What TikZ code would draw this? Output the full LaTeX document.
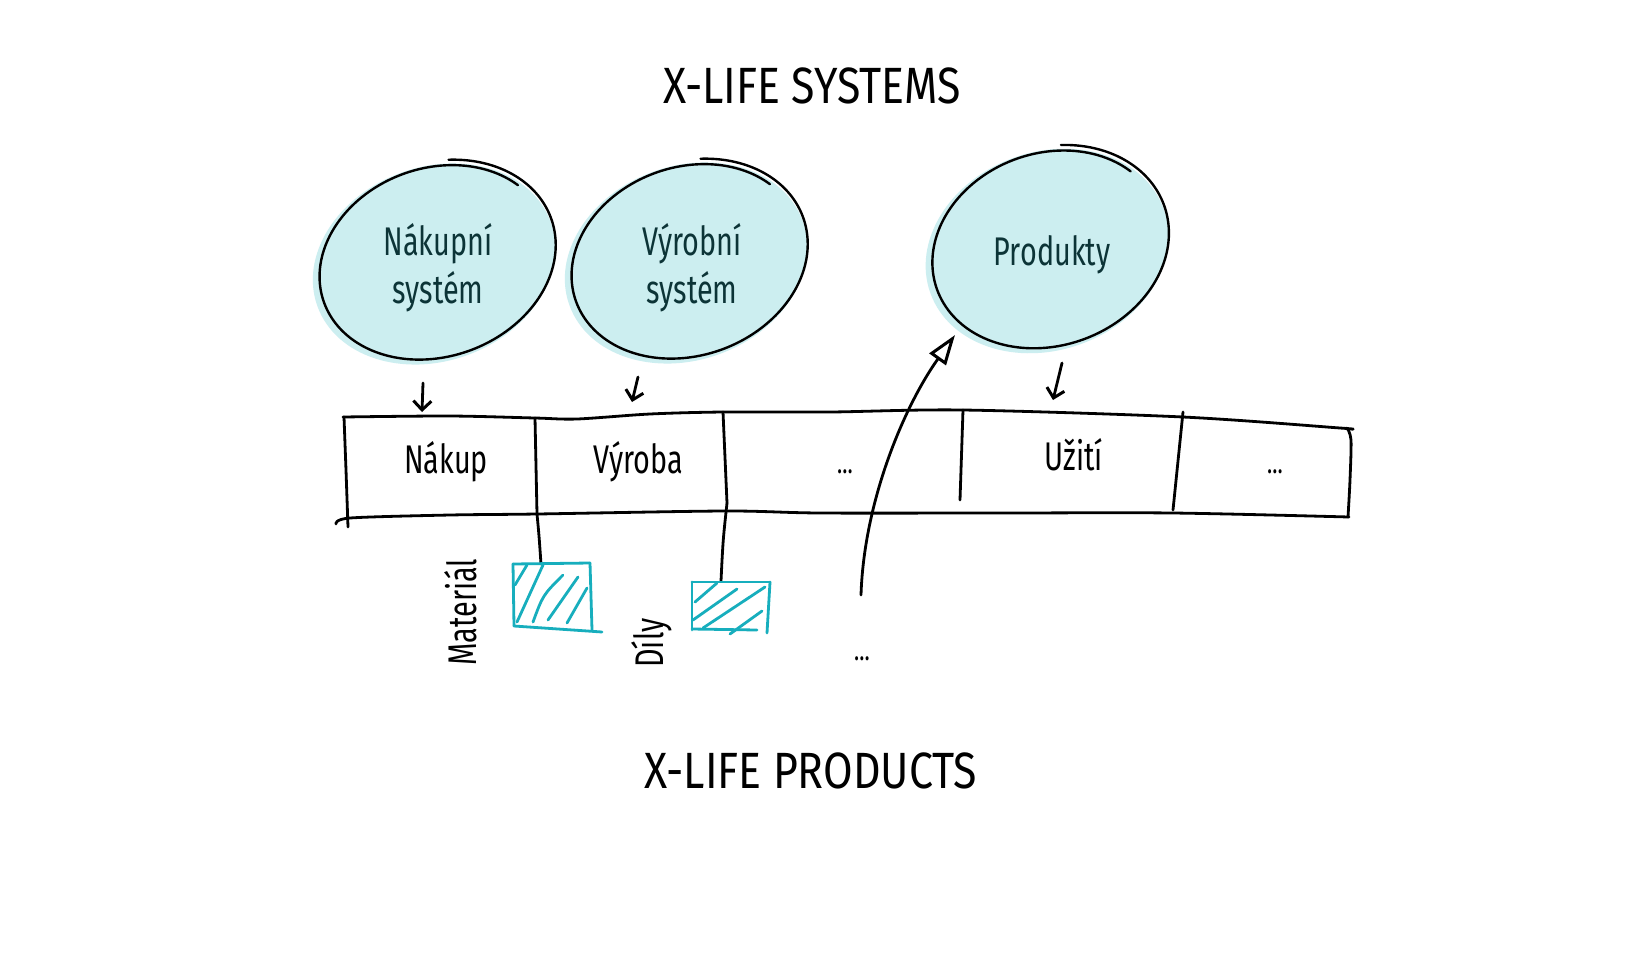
\documentclass[tikz,border=0pt]{standalone}
\usepackage{fontspec}
\setmainfont{Fira Sans}[FakeStretch=0.72]
\newfontfamily\titlefont{Fira Sans}[FakeStretch=0.84]
\usetikzlibrary{arrows.meta}
\definecolor{ellfill}{HTML}{CCEEF0}
\definecolor{boxteal}{HTML}{17AEBD}
\definecolor{inkdark}{HTML}{0C3437}
\newcommand\sketchell[4]{%
  \fill[ellfill, shift={(#1-2,#2+3)}, rotate=20] (0,0) ellipse[x radius=#3, y radius=#4-1];
  \draw[ellpen, shift={(#1,#2)}, rotate=20]
    plot[domain=292:692, samples=140, smooth, variable=\t]
    ({#3*(1-0.06*(\t-292)/400)*cos(\t)}, {#4*(1-0.06*(\t-292)/400)*sin(\t)});}
\begin{document}
\begin{tikzpicture}[x=1pt, y=-1pt, line cap=round, line join=round,
  pen/.style={line width=2.8pt, black},
  ellpen/.style={line width=2.4pt, black},
  tealpen/.style={line width=2.8pt, boxteal},
  hand/.style={font=\fontsize{40}{48}\selectfont, inner sep=0pt},
  elltext/.style={hand, text=inkdark, align=center},
  titletext/.style={font=\titlefont\fontsize{51}{56}\selectfont, inner sep=0pt, anchor=base},
  dots/.style={font=\fontsize{30}{34}\selectfont, inner sep=0pt, anchor=base},
  downarrow/.style={pen, -{Straight Barb[length=9pt, width=18pt, line width=3pt]}},
  bigarrow/.style={pen, -{Triangle[open, length=30pt, width=20pt, line width=3pt]}}]
\fill[white] (0,0) rectangle (1625,975);
\useasboundingbox (0,0) rectangle (1625,975);

% titles
\node[titletext] (ttop) at (812,103) {X-LIFE SYSTEMS};
\node[titletext] (tbot) at (811,788) {X-LIFE PRODUCTS};

% ellipses
\sketchell{436}{261}{124}{98}
\sketchell{688}{260}{124}{98}
\sketchell{1049}{248}{124}{100}
\node[elltext] (e1) at (438,268) {Nákupní\\systém};
\node[elltext] (e2) at (692,268) {Výrobní\\systém};
\node[elltext, anchor=base] (e3) at (1052,265) {Produkty};

% table
\draw[pen] plot[smooth, tension=0.5] coordinates {(343,417) (450,416) (535,418) (577,419) (650,414) (723,412) (830,412) (963,410) (1183,417) (1340,428) (1349,429)};
\draw[pen] plot[smooth, tension=0.5] coordinates {(336,524) (350,518) (450,515) (537,514) (725,511) (820,513) (1000,513) (1173,513) (1349,517)};
\draw[pen] (344,417) -- (346,470) -- (348,527);
\draw[pen] plot[smooth] coordinates {(1347,428) (1351,440) (1350,480) (1348,517)};
\draw[pen] (535,418) -- (537,514);
\draw[pen] (723,412) -- (727,503);
\draw[pen] (963,410) -- (960,500);
\draw[pen] (1183,412) -- (1173,510);

\node[hand, anchor=base] (c1) at (446,473) {Nákup};
\node[hand, anchor=base] (c2) at (638,473) {Výroba};
\node[dots] (c3) at (845,473) {...};
\node[hand, anchor=base] (c4) at (1074,470) {Užití};
\node[dots] (c5) at (1275,473) {...};

% down arrows
\coordinate (a1s) at (423,383); \coordinate (a1e) at (422,412);
\coordinate (a2s) at (638,377); \coordinate (a2e) at (632,402);
\coordinate (a3s) at (1062,363); \coordinate (a3e) at (1053,400);
\draw[downarrow] (a1s) -- (a1e);
\draw[downarrow] (a2s) -- (a2e);
\draw[downarrow] (a3s) -- (a3e);

% big arrow
\coordinate (tail) at (861,595);
\coordinate (ptip) at (955,335);
\draw[bigarrow] (tail) .. controls (864,500) and (905,405) .. (ptip);

% links to boxes
\coordinate (m1) at (537,514); \coordinate (m2) at (541,564);
\coordinate (d1) at (727,503); \coordinate (d2) at (721,581);
\draw[pen] (m1) .. controls (539,535) .. (m2);
\draw[pen] (d1) .. controls (723,540) .. (d2);

% Material box
\draw[tealpen] (513,564) -- (590,563);
\draw[tealpen] (513,564) -- (514,626);
\draw[tealpen] (590,563) -- (592,630);
\draw[tealpen] (514,626) -- (602,632);
\draw[tealpen] (515,585) -- (527,565);
\draw[tealpen] (517,622) -- (543,565);
\draw[tealpen] (533,622) .. controls (543,595) .. (563,575);
\draw[tealpen] (548,620) -- (578,577);
\draw[tealpen] (567,623) -- (587,588);

% Dily box
\draw[tealpen] (692,582) -- (770,582);
\draw[tealpen] (692,582) -- (692,630);
\draw[tealpen] (770,582) -- (767,633);
\draw[tealpen] (692,629) -- (757,630);
\draw[tealpen] (695,602) -- (717,583);
\draw[tealpen] (693,620) -- (737,589);
\draw[tealpen] (703,628) -- (765,587);
\draw[tealpen] (730,634) -- (762,611);

% rotated labels
\node[hand, rotate=90] (lmat) at (461,612) {Materiál};
\node[hand, rotate=90] (ldil) at (652,643) {Díly};
\node[dots] (c6) at (862,660) {...};
\end{tikzpicture}
\end{document}
